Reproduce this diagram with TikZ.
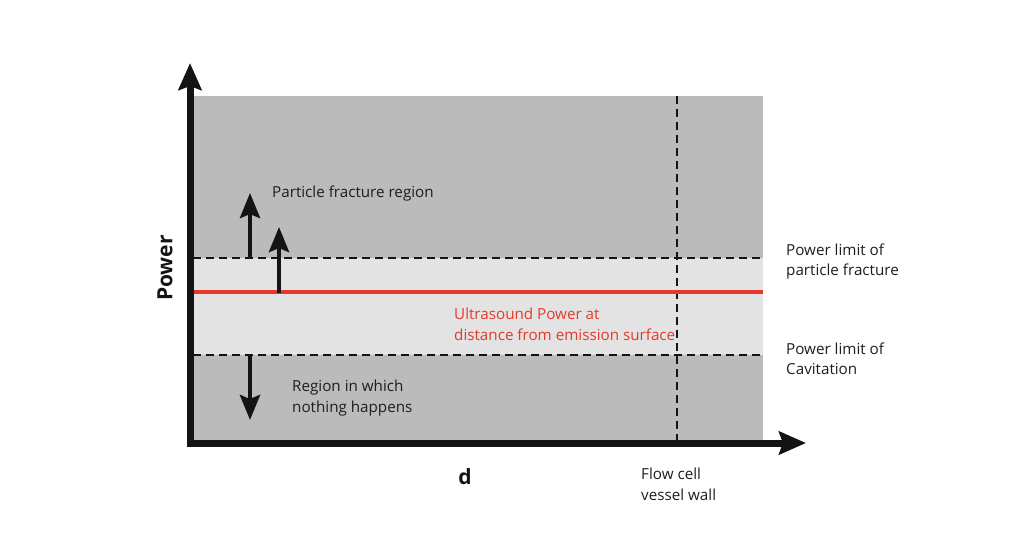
\documentclass[tikz,border=0pt]{standalone}
\usepackage{fontspec}
\setmainfont{Open Sans}
\usetikzlibrary{arrows.meta}
\definecolor{bgdark}{HTML}{BBBBBB}
\definecolor{bglight}{HTML}{E3E3E3}
\definecolor{redline}{HTML}{E53A2B}
\definecolor{axiscol}{HTML}{141414}
\definecolor{txtcol}{HTML}{1E1E1E}
\tikzset{
  axis/.style={line width=7pt, draw=axiscol, -{Stealth[length=27pt,width=23pt,inset=4pt]}},
  bigarrow/.style={line width=4.5pt, draw=axiscol, -{Stealth[length=25pt,width=20pt,inset=4pt]}},
  limit/.style={line width=2pt, draw=axiscol, dash pattern=on 8pt off 5pt},
  lbl/.style={font=\fontsize{15.2}{20.5}\selectfont, text=txtcol, align=left, anchor=west, inner sep=0pt},
  redlbl/.style={lbl, text=redline},
}
\begin{document}
\begin{tikzpicture}[x=1pt,y=-1pt]
\useasboundingbox (0,0) rectangle (1024,539);
% background regions
\fill[bgdark] (193,96) rectangle (763,443);
\fill[bglight] (193,258) rectangle (763,355);
% coordinates
\coordinate (tl) at (193,258);
\coordinate (tr) at (763,258);
\coordinate (bl) at (193,355);
\coordinate (br) at (763,355);
\coordinate (rl) at (193,292);
\coordinate (rr) at (763,292);
\coordinate (wt) at (677,96);
\coordinate (wb) at (677,443);
\coordinate (o1) at (190,447);
\coordinate (ytip) at (190,63);
\coordinate (o2) at (187,443);
\coordinate (xtip) at (806,443);
\coordinate (a1s) at (250,258);
\coordinate (a1e) at (250,193);
\coordinate (a2s) at (279,293);
\coordinate (a2e) at (279,227);
\coordinate (a3s) at (250,354);
\coordinate (a3e) at (250,420);
% limit lines
\draw[limit] (tl) -- (tr);
\draw[limit] (bl) -- (br);
\draw[limit] (wt) -- (wb);
% red line
\draw[redline, line width=3.2pt] (rl) -- (rr);
% arrows
\draw[bigarrow] (a1s) -- (a1e);
\draw[bigarrow] (a2s) -- (a2e);
\draw[bigarrow] (a3s) -- (a3e);
% axes
\draw[axis] (o1) -- (ytip);
\draw[axis] (o2) -- (xtip);
% labels
\node[lbl] (pfr) at (272,194) {Particle fracture region};
\node[lbl] (rin) at (292,398) {Region in which\\nothing happens};
\node[redlbl] (usp) at (454,324.5) {Ultrasound Power at\\distance from emission surface};
\node[lbl] (plf) at (786,261.5) {Power limit of\\particle fracture};
\node[lbl] (plc) at (786,358.5) {Power limit of\\Cavitation};
\node[lbl] (fcw) at (641,484.5) {Flow cell\\vessel wall};
\node[font=\fontsize{21}{24}\selectfont\bfseries, text=axiscol, rotate=90, inner sep=0pt] (pw) at (165,268) {Power};
\node[font=\fontsize{21}{24}\selectfont\bfseries, text=axiscol, inner sep=0pt] (d) at (465,477) {d};
\end{tikzpicture}
\end{document}
